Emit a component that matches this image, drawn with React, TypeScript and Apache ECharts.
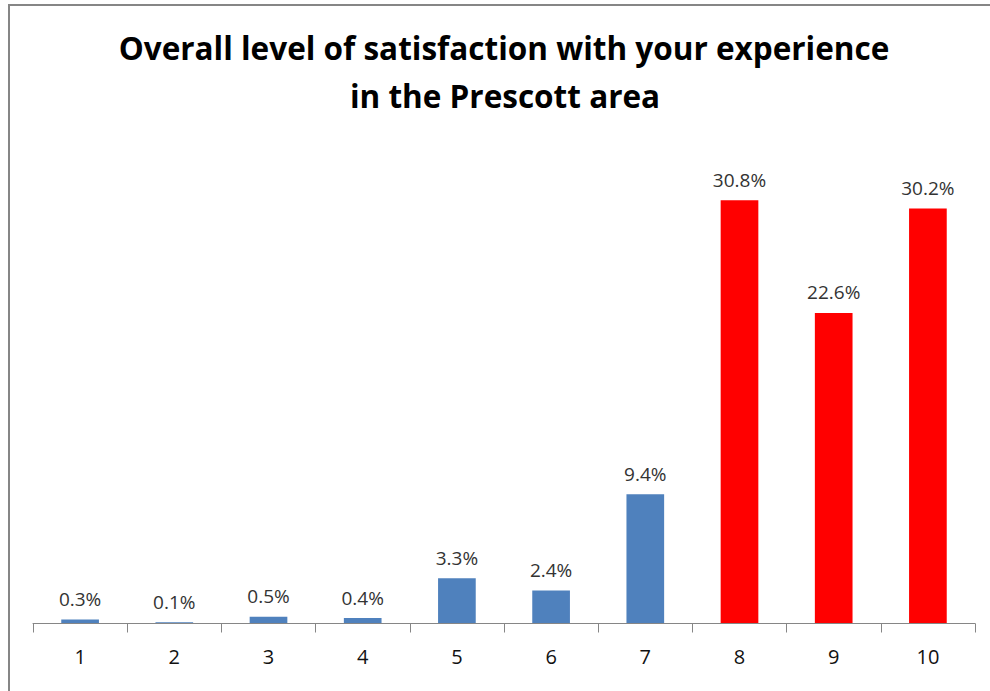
import React, { useEffect, useRef } from "react";
import * as echarts from "echarts";

const categories = ["1", "2", "3", "4", "5", "6", "7", "8", "9", "10"];
const values = [0.3, 0.1, 0.5, 0.4, 3.3, 2.4, 9.4, 30.8, 22.6, 30.2];
const highlight = [false, false, false, false, false, false, false, true, true, true];
const titleLines = ["Overall level of satisfaction with your experience", "in the Prescott area"];

const BLUE = "#4F81BD";
const RED = "#FF0000";
const FONT = "'Open Sans', Lato, sans-serif";

export default function App() {
  const ref = useRef<HTMLDivElement>(null);
  useEffect(() => {
    if (!ref.current) return;
    const chart = echarts.init(ref.current, null, { renderer: "svg" });
    chart.setOption({
      animation: false,
      backgroundColor: "#ffffff",
      graphic: [
        {
          type: "rect",
          shape: { x: 9, y: 5, width: 1000, height: 720 },
          style: { fill: "none", stroke: "#868686", lineWidth: 2 },
          silent: true,
        },
        {
          type: "text",
          x: 504,
          y: 47,
          style: {
            text: titleLines[0],
            fill: "#000",
            font: `bold 31.5px ${FONT}`,
            align: "center",
            verticalAlign: "middle",
          },
        },
        {
          type: "text",
          x: 505,
          y: 95,
          style: {
            text: titleLines[1],
            fill: "#000",
            font: `bold 31.5px ${FONT}`,
            align: "center",
            verticalAlign: "middle",
          },
        },
      ],
      grid: { left: 33, right: 15, top: 142.5, bottom: 67.5, containLabel: false },
      xAxis: {
        type: "category",
        data: categories,
        z: 5,
        axisLine: { lineStyle: { color: "#868686", width: 1 } },
        axisTick: { show: true, length: 9, lineStyle: { color: "#868686" } },
        axisLabel: { color: "#111", fontSize: 20, fontFamily: FONT, margin: 23 },
      },
      yAxis: {
        type: "value",
        min: 0,
        max: 35,
        show: false,
        splitLine: { show: false },
      },
      series: [
        {
          type: "bar",
          barWidth: "40%",
          data: values.map((v, i) => ({
            value: v,
            itemStyle: { color: highlight[i] ? RED : BLUE },
          })),
          label: {
            show: true,
            position: "top",
            distance: 11,
            color: "#333333",
            fontSize: 19,
            fontFamily: FONT,
            formatter: (p: any) => `${p.value.toFixed(1)}%`,
          },
        },
      ],
    });
    return () => chart.dispose();
  }, []);
  return (
    <div
      ref={ref}
      style={{ position: "fixed", left: 0, top: 0, width: 990, height: 691 }}
    />
  );
}
